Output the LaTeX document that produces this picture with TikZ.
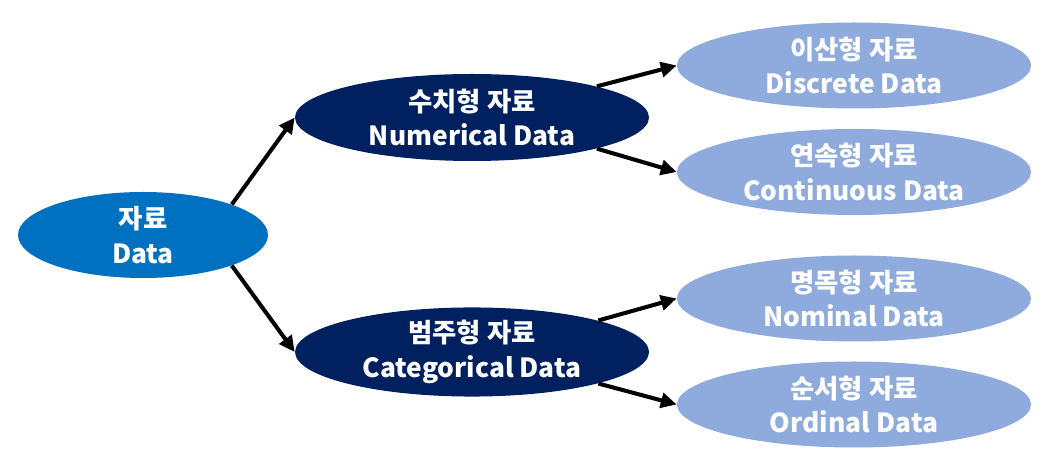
\documentclass[tikz,border=0pt]{standalone}
\usepackage{fontspec}
\setmainfont{Noto Sans CJK KR}
\usetikzlibrary{shapes.geometric, arrows.meta}
\definecolor{rootblue}{RGB}{0, 112, 192}
\definecolor{darknavy}{RGB}{0, 32, 96}
\definecolor{paleblue}{RGB}{143, 170, 220}

\begin{document}
\begin{tikzpicture}[
  blob/.style={ellipse, inner sep=0pt, text=white, align=center,
    font=\fontsize{15}{19.5}\selectfont\bfseries},
  link/.style={line width=2.3pt, -{Triangle[length=9pt, width=8.5pt]}}
]
  \useasboundingbox (0,0) rectangle (21,9.38);

  \node[blob, fill=rootblue, minimum width=5cm, minimum height=1.72cm] (data) at (2.86, 4.68) {자료\\Data};
  \node[blob, fill=darknavy, minimum width=7.08cm, minimum height=1.74cm] (num) at (9.44, 7.03) {수치형 자료\\Numerical Data};
  \node[blob, fill=darknavy, minimum width=7.08cm, minimum height=1.74cm] (cat) at (9.44, 2.34) {범주형 자료\\Categorical Data};

  \foreach \name/\y/\lbl in {disc/8.07/이산형 자료\\Discrete Data, cont/5.94/연속형 자료\\Continuous Data,
                             nom/3.41/명목형 자료\\Nominal Data, ord/1.29/순서형 자료\\Ordinal Data} {
    \node[blob, fill=paleblue, minimum width=7.08cm, minimum height=1.72cm] (\name) at (17.08, \y) {\lbl};
  }

  \draw[link] (data.19) -- (num.west);
  \draw[link] (data.-19) -- (cat.west);
  \foreach \src/\a/\dst in {num/14/disc, num/-14/cont, cat/14/nom, cat/-14/ord} {
    \draw[link] (\src.\a) -- (\dst.west);
  }
\end{tikzpicture}
\end{document}
